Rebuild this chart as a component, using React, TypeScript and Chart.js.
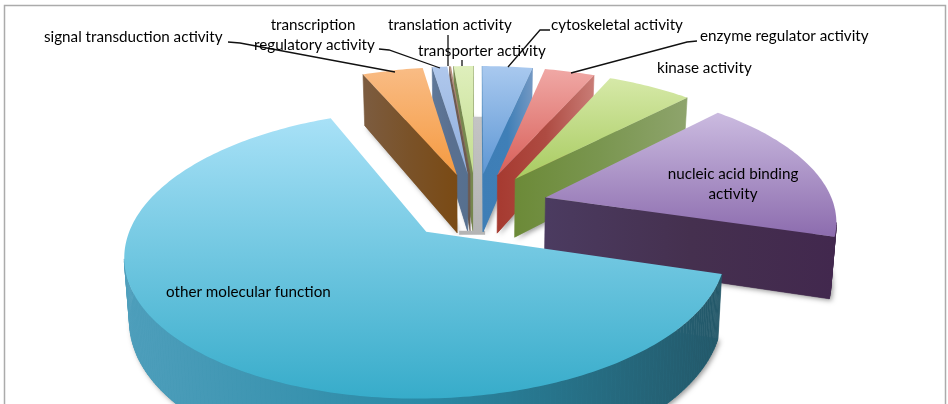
import React, { useEffect, useRef } from "react";
import { Chart, registerables } from "chart.js";

Chart.register(...registerables);

// --- data (share of molecular-function terms, %), clockwise from 12 o'clock
const categories = [
  "cytoskeletal activity",
  "enzyme regulator activity",
  "kinase activity",
  "nucleic acid binding activity",
  "other molecular function",
  "signal transduction activity",
  "transcription regulatory activity",
  "translation activity",
  "transporter activity",
];
const values = [3.3, 3.3, 5.6, 17.4, 63.9, 4.0, 1.0, 0.1, 1.3];

// --- colours per slice, same order
const topLight = ["#A9C9EF", "#F0A8A5", "#D6E9A8", "#CBBBE0", "#A8E1F7", "#F9BC85", "#B0C8EC", "#B9917F", "#DFEFBC"];
const topDark = ["#5E97D4", "#D85F58", "#A8CB60", "#8C6CAE", "#37ACCA", "#F59A40", "#8FAEDD", "#8E5F50", "#C3DD8F"];
const wallA = ["#3E7EB6", "#A63A30", "#6C8A38", "#4B3B60", "#4F9FBC", "#7C5C40", "#5F7899", "#6E5A50", "#77884F"];
const wallB = ["#3F7FB7", "#AE4B42", "#7A9650", "#45304F", "#2A8AA6", "#7A5228", "#5A7090", "#6E5A50", "#77884F"];
const wallC = ["#7398C3", "#C97C76", "#8EA46C", "#42284E", "#235768", "#7A4A14", "#56708F", "#6E5A50", "#77884F"];

// --- projection of the pie plane onto the picture
const VIEW = { x0: 476, y0: 206, a: 296, b: 136.5, k: 0.155 };
const EXPLODE = 0.245;
const RADIUS = 0.975;
const DEPTH = 60;
const CONVERGE = 0.985;

type Pt = { x: number; y: number; w: number };

function project(u: number, v: number): Pt {
  const w = 1 - VIEW.k * v;
  return { x: VIEW.x0 + (VIEW.a * u) / w, y: VIEW.y0 + (VIEW.b * v) / w, w };
}
function lower(p: Pt): Pt {
  return { x: VIEW.x0 + (p.x - VIEW.x0) * CONVERGE, y: p.y + DEPTH / p.w, w: p.w };
}

// --- text
const labelFont = '15.2px Lato, "Open Sans", sans-serif';
const labels: [string, number, number, CanvasTextAlign][] = [
  ["signal transduction activity", 44, 37, "left"],
  ["transcription", 313, 25, "center"],
  ["regulatory activity", 254, 45, "left"],
  ["translation activity", 388, 25, "left"],
  ["transporter activity", 418, 51, "left"],
  ["cytoskeletal activity", 551, 25, "left"],
  ["enzyme regulator activity", 700, 36, "left"],
  ["kinase activity", 657, 68, "left"],
  ["nucleic acid binding", 733, 174, "center"],
  ["activity", 733, 194, "center"],
  ["other molecular function", 166, 292, "left"],
];
const leaders: number[][][] = [
  [[228, 42], [240, 43], [395, 72]],
  [[379, 49], [389, 50], [440, 68]],
  [[448, 35], [448, 66]],
  [[462, 60], [462, 66]],
  [[550, 30], [540, 30], [508, 67]],
  [[697, 41], [687, 42], [571, 73]],
];

function poly(ctx: CanvasRenderingContext2D, pts: Pt[]) {
  ctx.beginPath();
  pts.forEach((p, i) => (i ? ctx.lineTo(p.x, p.y) : ctx.moveTo(p.x, p.y)));
  ctx.closePath();
}

const pie3d = {
  id: "pie3d",
  beforeDraw(chart: any) {
    const ctx: CanvasRenderingContext2D = chart.ctx;
    ctx.save();
    ctx.strokeStyle = "#ababab";
    ctx.lineWidth = 1.5;
    ctx.beginPath();
    ctx.moveTo(4.5, 420);
    ctx.lineTo(4.5, 5.5);
    ctx.lineTo(945.5, 5.5);
    ctx.lineTo(945.5, 420);
    ctx.stroke();
    ctx.restore();
  },
  beforeDatasetsDraw(chart: any) {
    const ctx: CanvasRenderingContext2D = chart.ctx;
    const arcs = chart.getDatasetMeta(0).data;
    // painter's order: left-hand slices from the middle outward, then the right-hand ones, then the big near slice
    const order = [8, 7, 6, 5, 0, 1, 2, 3, 4];
    ctx.save();
    ctx.lineJoin = "round";
    for (const i of order) {
      const { startAngle, endAngle } = arcs[i].getProps(["startAngle", "endAngle"], true);
      const mid = (startAngle + endAngle) / 2;
      const cu = EXPLODE * Math.cos(mid);
      const cv = EXPLODE * Math.sin(mid);
      const apex = project(cu, cv);
      const outline: Pt[] = [apex];
      const steps = Math.max(2, Math.ceil(((endAngle - startAngle) * 180) / Math.PI));
      for (let s = 0; s <= steps; s++) {
        const a = startAngle + ((endAngle - startAngle) * s) / steps;
        outline.push(project(cu + RADIUS * Math.cos(a), cv + RADIUS * Math.sin(a)));
      }
      const xs = outline.map((p) => p.x);
      const ys = outline.map((p) => p.y);
      const minX = Math.min(...xs);
      const maxX = Math.max(...xs);

      // soft drop shadow under the slice
      ctx.save();
      ctx.shadowColor = "rgba(0,0,0,0.4)";
      ctx.shadowBlur = 5;
      ctx.shadowOffsetX = 2;
      ctx.shadowOffsetY = 2;
      ctx.fillStyle = wallB[i];
      poly(ctx, outline.map(lower));
      ctx.fill();
      ctx.restore();

      // grey gap shadow at the left of the first slice on the right side
      if (i === 0) {
        const b = lower(apex);
        const g = ctx.createLinearGradient(0, b.y - 115, 0, b.y);
        g.addColorStop(0, "#c4c4c4");
        g.addColorStop(1, "#b4b4b4");
        ctx.fillStyle = g;
        ctx.fillRect(b.x - 10, b.y - 115, 10, 115);
        ctx.fillRect(b.x - 24, b.y - 1, 26, 4);
      }

      // walls
      const wall = ctx.createLinearGradient(minX, 0, maxX, 0);
      wall.addColorStop(0, wallA[i]);
      wall.addColorStop(0.5, wallB[i]);
      wall.addColorStop(1, wallC[i]);
      ctx.fillStyle = wall;
      ctx.strokeStyle = wall;
      ctx.lineWidth = 0.6;
      for (let n = 0; n < outline.length; n++) {
        const p = outline[n];
        const q = outline[(n + 1) % outline.length];
        if (q.x < p.x) {
          poly(ctx, [p, q, lower(q), lower(p)]);
          ctx.fill();
          ctx.stroke();
        }
      }

      // top face
      const top = ctx.createLinearGradient(0, Math.min(...ys), 0, Math.max(...ys));
      top.addColorStop(0, topLight[i]);
      top.addColorStop(1, topDark[i]);
      ctx.fillStyle = top;
      poly(ctx, outline);
      ctx.fill();
    }
    ctx.restore();
    return false;
  },
  afterDraw(chart: any) {
    const ctx: CanvasRenderingContext2D = chart.ctx;
    ctx.save();
    ctx.strokeStyle = "#111";
    ctx.lineWidth = 1.3;
    for (const line of leaders) {
      ctx.beginPath();
      line.forEach(([x, y], i) => (i ? ctx.lineTo(x, y) : ctx.moveTo(x, y)));
      ctx.stroke();
    }
    ctx.fillStyle = "#000";
    ctx.font = labelFont;
    ctx.textBaseline = "middle";
    for (const [text, x, y, align] of labels) {
      ctx.textAlign = align;
      ctx.fillText(text, x, y);
    }
    ctx.restore();
  },
};

export default function App() {
  const ref = useRef<HTMLCanvasElement>(null);
  useEffect(() => {
    const chart = new Chart(ref.current!, {
      type: "pie",
      data: {
        labels: categories,
        datasets: [{ data: values, backgroundColor: topDark, borderWidth: 0 }],
      },
      options: {
        animation: false,
        responsive: false,
        rotation: 0,
        layout: { padding: 0 },
        plugins: { legend: { display: false }, tooltip: { enabled: false } },
      },
      plugins: [pie3d],
    } as any);
    return () => chart.destroy();
  }, []);
  return (
    <canvas
      ref={ref}
      width={948}
      height={404}
      style={{ position: "absolute", left: 0, top: 0, display: "block", background: "#fff" }}
    />
  );
}
